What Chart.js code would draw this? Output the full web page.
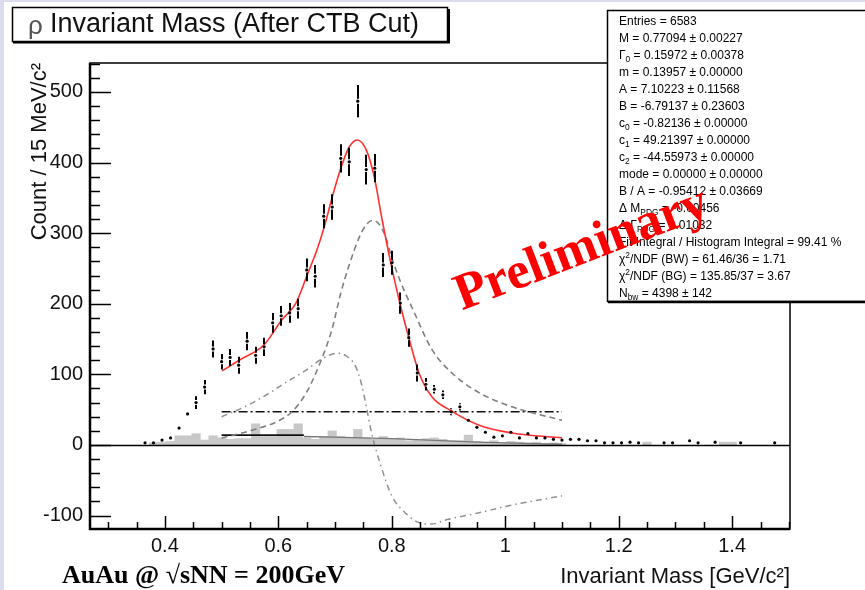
<!DOCTYPE html>
<html>
<head>
<meta charset="utf-8">
<script src="https://cdn.jsdelivr.net/npm/chart.js@4.4.1/dist/chart.umd.min.js"></script>
<style>
  html, body { margin: 0; padding: 0; background: #fff; }
  #wrap { position: relative; width: 865px; height: 590px; }
</style>
</head>
<body>
<div id="wrap"><canvas id="chart" width="865" height="590"></canvas></div>
<script>
// ---- data ----
const dataMass = [
  0.365, 0.38, 0.395, 0.41, 0.425, 0.44, 0.455, 0.47, 0.485, 0.5,
  0.515, 0.53, 0.545, 0.56, 0.575, 0.59, 0.605, 0.62, 0.635, 0.65,
  0.665, 0.68, 0.695, 0.71, 0.725, 0.74, 0.755, 0.77, 0.785, 0.8,
  0.815, 0.83, 0.845, 0.86, 0.875, 0.89, 0.905, 0.92, 0.935, 0.95,
  0.965, 0.98, 0.995, 1.01, 1.025, 1.04, 1.055, 1.07, 1.085, 1.1,
  1.115, 1.13, 1.145, 1.16, 1.175, 1.19, 1.205, 1.22, 1.235, 1.28,
  1.295, 1.325, 1.34, 1.37, 1.415, 1.475
];
const dataCounts = [
  3, 3, 7, 10, 24, 44, 60, 82, 136, 118,
  124, 113, 147, 127, 139, 173, 183, 187, 193, 248,
  239, 324, 337, 406, 401, 487, 390, 392, 255, 258,
  201, 152, 102, 86, 79, 71, 47, 54, 35, 25,
  18, 11, 13, 18, 10, 16, 10, 10, 8, 7,
  8, 8, 6, 6, 3, 3, 3, 4, 3, 3,
  3, 6, 3, 4, 3, 3
];
const dataErrors = [
  2, 2, 3, 3, 3, 4, 9, 10, 12, 11,
  12, 12, 13, 12, 13, 14, 14, 14, 14, 16,
  16, 17, 18, 20, 20, 23, 21, 20, 17, 17,
  15, 13, 12, 9, 6, 6, 5, 5, 4, 4,
  3, 3, 3, 3, 3, 3, 3, 3, 3, 3,
  2, 2, 2, 2, 2, 2, 2, 2, 2, 2,
  2, 2, 2, 2, 2, 2
];

// like-sign / residual histogram (grey fill)
const bgMass = [
  0.38, 0.395, 0.41, 0.425, 0.44, 0.455, 0.47, 0.485, 0.5, 0.515,
  0.53, 0.545, 0.56, 0.575, 0.59, 0.605, 0.62, 0.635, 0.65, 0.665,
  0.68, 0.695, 0.71, 0.725, 0.74, 0.755, 0.77, 0.785, 0.8, 0.815,
  0.83, 0.845, 0.86, 0.875, 0.89, 0.905, 0.92, 0.935, 0.95, 0.965,
  0.98, 0.995, 1.01, 1.025, 1.04, 1.055, 1.07, 1.085, 1.1, 1.25,
  1.385, 1.4
];
const bgCounts = [
  3, 4, 5, 13, 13, 16, 7, 13, 10, 8,
  9, 9, 30, 12, 12, 22, 22, 30, 10, 8,
  12, 20, 12, 10, 22, 10, 8, 12, 8, 10,
  6, 8, 9, 10, 8, 6, 6, 14, 5, 4,
  6, 3, 5, 4, 3, 4, 2, 3, 2, 4,
  4, 4
];

// total fit (red)
const fitMass = [0.501, 0.531, 0.575, 0.606, 0.631, 0.651, 0.668, 0.681, 0.695, 0.711, 0.725, 0.739,
  0.755, 0.769, 0.783, 0.799, 0.813, 0.831, 0.848, 0.871, 0.901, 0.954, 1.012, 1.1];
const fitCounts = [105, 120, 142, 177, 201, 241, 276, 309, 351, 394, 422, 432,
  418, 380, 319, 255, 205, 149, 102, 68, 50, 28, 17, 10];

// Breit-Wigner component (grey dashed)
const bwMass = [0.5, 0.55, 0.6, 0.624, 0.65, 0.677, 0.695, 0.71, 0.725, 0.742, 0.755, 0.765,
  0.775, 0.789, 0.8, 0.815, 0.836, 0.871, 0.906, 0.954, 1.012, 1.1];
const bwCounts = [10, 20, 34, 47, 75, 123, 165, 215, 255, 293, 312, 318,
  315, 295, 265, 232, 194, 135, 102, 74, 54, 35];

// interference term (grey dash-dot)
const intMass = [0.5, 0.548, 0.589, 0.606, 0.649, 0.677, 0.704, 0.72, 0.737, 0.747, 0.755, 0.765,
  0.781, 0.8, 0.825, 0.848, 0.87, 0.896, 0.954, 1.012, 1.1];
const intCounts = [40, 57, 76, 85, 106, 122, 130, 126, 110, 85, 55, 15,
  -30, -72, -97, -110, -112, -106, -96, -85, -72];

// constant background (black dash-dot) and polynomial background (solid)
const flatMass = [0.5, 1.1];
const flatCounts = [47, 47];
const polyMass = [0.5, 0.645];
const polyCounts = [14, 14];
const polyTailMass = [0.645, 0.8, 0.95, 1.1];
const polyTailCounts = [12, 9, 4, 1];

// axes
const xTicks = [0.4, 0.6, 0.8, 1.0, 1.2, 1.4];
const xTickLabels = ['0.4', '0.6', '0.8', '1', '1.2', '1.4'];
const yTicks = [-100, 0, 100, 200, 300, 400, 500];
const yTickLabels = ['-100', '0', '100', '200', '300', '400', '500'];

const titleText = 'Invariant Mass (After CTB Cut)';
const statLines = [
  'Entries = 6583',
  'M = 0.77094 ± 0.00227',
  'Γ_{0} = 0.15972 ± 0.00378',
  'm = 0.13957 ± 0.00000',
  'A = 7.10223 ± 0.11568',
  'B = -6.79137 ± 0.23603',
  'c_{0} = -0.82136 ± 0.00000',
  'c_{1} = 49.21397 ± 0.00000',
  'c_{2} = -44.55973 ± 0.00000',
  'mode = 0.00000 ± 0.00000',
  'B / A = -0.95412 ± 0.03669',
  'Δ M_{PDG} = -0.00456',
  'Δ Γ_{PDG} = 0.01032',
  'Fit Integral / Histogram Integral = 99.41 %',
  'χ^{2}/NDF (BW) = 61.46/36 = 1.71',
  'χ^{2}/NDF (BG) = 135.85/37 = 3.67',
  'N_{bw} = 4398 ± 142'
];

const SANS = '"Liberation Sans", Arial, Helvetica, sans-serif';
const SERIF = '"Liberation Serif", "Times New Roman", serif';

const pts = (xs, ys) => xs.map((x, i) => ({ x: x, y: ys[i] }));

function richText(ctx, str, x, y, size) {
  const re = /([_^])\{([^}]*)\}/g;
  let last = 0, m, cx = x;
  const put = (t, dy, s) => {
    ctx.font = s + 'px ' + SANS;
    ctx.fillText(t, cx, y + dy);
    cx += ctx.measureText(t).width;
  };
  while ((m = re.exec(str))) {
    if (m.index > last) put(str.slice(last, m.index), 0, size);
    put(m[2], m[1] === '_' ? size * 0.3 : -size * 0.35, size * 0.7);
    last = re.lastIndex;
  }
  if (last < str.length) put(str.slice(last), 0, size);
}

const rootStyle = {
  id: 'rootStyle',
  beforeDraw(chart) {
    const ctx = chart.ctx;
    ctx.save();
    ctx.fillStyle = '#fff';
    ctx.fillRect(0, 0, chart.width, chart.height);
    ctx.fillStyle = '#dcdcef';
    ctx.fillRect(0, 0, 4, chart.height);
    ctx.fillRect(0, 0, chart.width, 2);
    ctx.restore();
  },
  afterDatasetsDraw(chart) {
    const ctx = chart.ctx;
    const xs = chart.scales.x, ys = chart.scales.y;
    const a = chart.chartArea;
    ctx.save();
    // error bars with a small gap round the marker
    ctx.beginPath();
    ctx.rect(a.left, a.top, a.right - a.left, a.bottom - a.top);
    ctx.clip();
    ctx.strokeStyle = '#000';
    ctx.lineWidth = 2;
    dataMass.forEach((m, i) => {
      const px = Math.round(xs.getPixelForValue(m));
      const py = ys.getPixelForValue(dataCounts[i]);
      const hi = ys.getPixelForValue(dataCounts[i] + dataErrors[i]);
      const lo = ys.getPixelForValue(dataCounts[i] - dataErrors[i]);
      ctx.beginPath();
      if (py - hi > 3) { ctx.moveTo(px, hi); ctx.lineTo(px, py - 2.5); }
      if (lo - py > 3) { ctx.moveTo(px, py + 2.5); ctx.lineTo(px, lo); }
      ctx.stroke();
    });
    ctx.restore();

    ctx.save();
    ctx.strokeStyle = '#000';
    // zero line
    const y0 = Math.round(ys.getPixelForValue(0)) + 0.5;
    ctx.lineWidth = 1.5;
    ctx.beginPath(); ctx.moveTo(a.left, y0); ctx.lineTo(a.right, y0); ctx.stroke();
    // frame
    ctx.lineWidth = 1.5;
    ctx.strokeRect(a.left, a.top, a.right - a.left, a.bottom - a.top);
    ctx.lineWidth = 2.5;
    ctx.beginPath();
    ctx.moveTo(a.left, a.top); ctx.lineTo(a.left, a.bottom); ctx.lineTo(a.right, a.bottom);
    ctx.stroke();
    // inward ticks
    ctx.lineWidth = 1.5;
    ctx.beginPath();
    for (let v = -100; v <= 540; v += 20) {
      const py = Math.round(ys.getPixelForValue(v)) + 0.5;
      const len = v % 100 === 0 ? 21 : 10;
      ctx.moveTo(a.left, py); ctx.lineTo(a.left + len, py);
    }
    for (let k = 6; k <= 30; k++) {
      const v = k * 0.05;
      const px = Math.round(xs.getPixelForValue(v)) + 0.5;
      const len = k % 4 === 0 ? 13 : 7;
      ctx.moveTo(px, a.bottom); ctx.lineTo(px, a.bottom - len);
    }
    ctx.stroke();
    ctx.restore();
  },
  afterDraw(chart) {
    const ctx = chart.ctx;
    ctx.save();
    // title box
    ctx.fillStyle = '#fff';
    ctx.fillRect(12, 7, 436, 35);
    ctx.strokeStyle = '#000';
    ctx.lineWidth = 1.5;
    ctx.strokeRect(12.5, 7.5, 435, 34);
    ctx.lineWidth = 2;
    ctx.beginPath(); ctx.moveTo(13, 42.5); ctx.lineTo(449, 42.5); ctx.lineTo(449, 9); ctx.stroke();
    ctx.textBaseline = 'middle';
    ctx.fillStyle = '#555';
    ctx.font = '26px ' + SANS;
    ctx.fillText('ρ', 28, 27);
    ctx.fillStyle = '#111';
    ctx.font = '27px ' + SANS;
    ctx.fillText(titleText, 50, 25);

    // statistics box
    ctx.fillStyle = '#fff';
    ctx.fillRect(607, 10, 270, 292);
    ctx.strokeStyle = '#000';
    ctx.lineWidth = 1.5;
    ctx.strokeRect(607.5, 10.5, 270, 291);
    ctx.lineWidth = 2.5;
    ctx.beginPath(); ctx.moveTo(608, 302); ctx.lineTo(870, 302); ctx.stroke();
    ctx.fillStyle = '#000';
    ctx.textBaseline = 'middle';
    statLines.forEach((s, i) => richText(ctx, s, 619, 22 + 17 * i, 12));

    // AuAu label
    ctx.fillStyle = '#000';
    ctx.font = 'bold 26px ' + SERIF;
    ctx.textBaseline = 'middle';
    ctx.fillText('AuAu @ √sNN = 200GeV', 62, 576);

    // Preliminary stamp
    ctx.translate(582, 250);
    ctx.rotate(-21 * Math.PI / 180);
    ctx.fillStyle = '#ff0000';
    ctx.font = 'bold 52px ' + SERIF;
    ctx.textAlign = 'center';
    ctx.fillText('Preliminary', 0, 0);
    ctx.restore();
  }
};

const lineDs = (label, xs, ys, color, dash, width, order) => ({
  type: 'line',
  label: label,
  data: pts(xs, ys),
  borderColor: color,
  borderWidth: width,
  borderDash: dash,
  pointRadius: 0,
  fill: false,
  tension: 0.4,
  cubicInterpolationMode: 'monotone',
  order: order
});

new Chart(document.getElementById('chart'), {
  type: 'line',
  data: {
    datasets: [
      {
        type: 'scatter',
        label: 'data',
        data: pts(dataMass, dataCounts),
        showLine: false,
        pointRadius: 1.6,
        pointBackgroundColor: '#000',
        pointBorderColor: '#000',
        pointBorderWidth: 0,
        order: 0
      },
      lineDs('fit', fitMass, fitCounts, '#ff3030', [], 1.6, 1),
      lineDs('BW', bwMass, bwCounts, '#808080', [6, 4], 1.6, 2),
      lineDs('interference', intMass, intCounts, '#909090', [6, 4, 1.5, 4], 1.5, 3),
      lineDs('const', flatMass, flatCounts, '#111', [9, 3, 2, 3], 1.6, 4),
      lineDs('poly', polyMass, polyCounts, '#111', [], 1.8, 5),
      lineDs('polyTail', polyTailMass, polyTailCounts, '#777', [], 1.4, 6),
      {
        type: 'bar',
        label: 'like-sign',
        data: pts(bgMass, bgCounts),
        backgroundColor: '#c8c8c8',
        borderWidth: 0,
        barPercentage: 1,
        categoryPercentage: 1,
        order: 10
      }
    ]
  },
  options: {
    responsive: false,
    devicePixelRatio: 1,
    animation: false,
    events: [],
    layout: { padding: { left: 0, top: 63, right: 75, bottom: 0 } },
    plugins: { legend: { display: false }, tooltip: { enabled: false }, title: { display: false } },
    scales: {
      x: {
        type: 'linear',
        min: 0.268,
        max: 1.502,
        offset: false,
        grid: { display: false, drawTicks: false },
        border: { display: false },
        afterBuildTicks: (s) => { s.ticks = xTicks.map(v => ({ value: v })); },
        afterFit: (s) => { s.height = 61; },
        ticks: {
          padding: 5,
          color: '#111',
          font: { family: SANS, size: 20 },
          maxRotation: 0,
          autoSkip: false,
          callback: (v) => xTickLabels[xTicks.findIndex(t => Math.abs(t - v) < 1e-6)]
        },
        title: {
          display: true,
          text: 'Invariant Mass [GeV/c²]',
          align: 'end',
          color: '#111',
          font: { family: SANS, size: 22 },
          padding: { top: 0, bottom: 0 }
        }
      },
      y: {
        type: 'linear',
        min: -119,
        max: 541,
        grid: { display: false, drawTicks: false },
        border: { display: false },
        afterBuildTicks: (s) => { s.ticks = yTicks.map(v => ({ value: v })); },
        afterFit: (s) => { s.width = 90; },
        ticks: {
          padding: 7,
          color: '#111',
          font: { family: SANS, size: 20 },
          autoSkip: false,
          callback: (v) => yTickLabels[yTicks.indexOf(v)]
        },
        title: {
          display: true,
          text: 'Count / 15 MeV/c²',
          align: 'end',
          color: '#111',
          font: { family: SANS, size: 22 },
          padding: { top: 27, bottom: 0 }
        }
      }
    }
  },
  plugins: [rootStyle]
});
</script>
</body>
</html>
